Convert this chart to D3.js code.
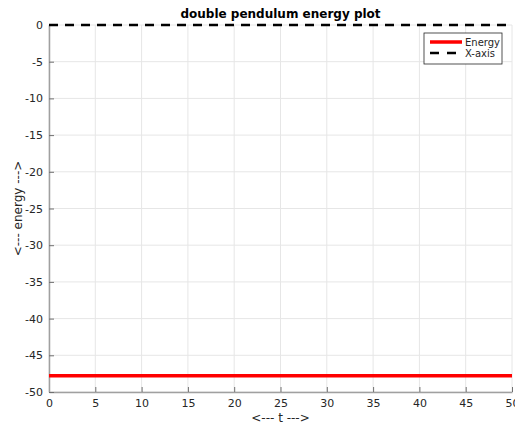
<!DOCTYPE html>
<html>
<head>
<meta charset="utf-8">
<script src="https://cdn.jsdelivr.net/npm/d3@7"></script>
<style>
  body { margin: 0; background: #fff; }
  text { font-family: "DejaVu Sans", sans-serif; }
</style>
</head>
<body>
<div id="chart"></div>
<script>
// Data
const timeSteps = [0, 10, 20, 30, 40, 50];
const energyValues = [-47.8, -47.8, -47.8, -47.8, -47.8, -47.8];
const xAxisLine = [0, 0, 0, 0, 0, 0];
const xTicks = [0, 5, 10, 15, 20, 25, 30, 35, 40, 45, 50];
const yTicks = [0, -5, -10, -15, -20, -25, -30, -35, -40, -45, -50];
const legendLabels = ["Energy", "X-axis"];

// Dimensions
const W = 515, H = 426;
const margin = { top: 25, right: 3, bottom: 34, left: 49 };
const width = W - margin.left - margin.right;
const height = H - margin.top - margin.bottom;

const svg = d3.select("#chart")
    .append("svg")
    .attr("width", W)
    .attr("height", H);

const g = svg.append("g")
    .attr("transform", `translate(${margin.left},${margin.top})`);

const x = d3.scaleLinear().domain([0, 50]).range([0, width]);
const y = d3.scaleLinear().domain([-50, 0]).range([height, 0]);

// Grid
g.append("g").selectAll("line")
    .data(xTicks)
    .join("line")
    .attr("x1", d => x(d)).attr("x2", d => x(d))
    .attr("y1", 0).attr("y2", height)
    .attr("stroke", "#e6e6e6").attr("stroke-width", 1);

g.append("g").selectAll("line")
    .data(yTicks)
    .join("line")
    .attr("x1", 0).attr("x2", width)
    .attr("y1", d => y(d)).attr("y2", d => y(d))
    .attr("stroke", "#e6e6e6").attr("stroke-width", 1);

// Axes (ticks point inward, plain hyphen minus like MATLAB)
const xAxis = g.append("g")
    .attr("transform", `translate(0,${height})`)
    .call(d3.axisBottom(x).tickValues(xTicks).tickFormat(d => String(d))
        .tickSize(-5).tickPadding(7).tickSizeOuter(0));
const yAxis = g.append("g")
    .call(d3.axisLeft(y).tickValues(yTicks).tickFormat(d => String(d))
        .tickSize(-5).tickPadding(6).tickSizeOuter(0));

[xAxis, yAxis].forEach(a => {
    a.select(".domain").attr("stroke", "#a0a0a0").attr("stroke-width", 1.5);
    a.selectAll(".tick line").attr("stroke", "#707070");
    a.selectAll(".tick text")
        .attr("fill", "#262626")
        .style("font-size", "11px")
        .style("font-family", "DejaVu Sans, sans-serif");
});

const line = d3.line()
    .x((d, i) => x(timeSteps[i]))
    .y(d => y(d));

// Energy line
g.append("path")
    .datum(energyValues)
    .attr("fill", "none")
    .attr("stroke", "#ff0000")
    .attr("stroke-width", 3.5)
    .attr("d", line);

// X-axis dashed line
g.append("path")
    .datum(xAxisLine)
    .attr("fill", "none")
    .attr("stroke", "#000")
    .attr("stroke-width", 2.5)
    .attr("stroke-dasharray", "9,7")
    .attr("d", line);

// Title
svg.append("text")
    .attr("x", margin.left + width / 2)
    .attr("y", 18)
    .attr("text-anchor", "middle")
    .style("font-size", "12px")
    .style("font-weight", "bold")
    .attr("fill", "#000")
    .text("double pendulum energy plot");

// Axis labels
svg.append("text")
    .attr("x", margin.left + width / 2)
    .attr("y", 422)
    .attr("text-anchor", "middle")
    .style("font-size", "12px")
    .attr("fill", "#262626")
    .text("<--- t --->");

svg.append("text")
    .attr("transform", `translate(22,${margin.top + height / 2}) rotate(-90)`)
    .attr("text-anchor", "middle")
    .style("font-size", "12px")
    .attr("fill", "#262626")
    .text("<--- energy --->");

// Legend
const legend = svg.append("g").attr("transform", "translate(424,33)");
legend.append("rect")
    .attr("width", 78).attr("height", 31)
    .attr("fill", "#fff").attr("stroke", "#262626").attr("stroke-width", 0.8);
const legendStyles = [
    { color: "#ff0000", w: 3.5, dash: null },
    { color: "#000", w: 2.5, dash: "9,8" }
];
legendLabels.forEach((lab, i) => {
    const ly = 9 + i * 11;
    legend.append("line")
        .attr("x1", 6).attr("x2", 38)
        .attr("y1", ly).attr("y2", ly)
        .attr("stroke", legendStyles[i].color)
        .attr("stroke-width", legendStyles[i].w)
        .attr("stroke-dasharray", legendStyles[i].dash);
    legend.append("text")
        .attr("x", 41).attr("y", ly + 3.5)
        .style("font-size", "10px")
        .attr("fill", "#262626")
        .text(lab);
});
</script>
</body>
</html>
